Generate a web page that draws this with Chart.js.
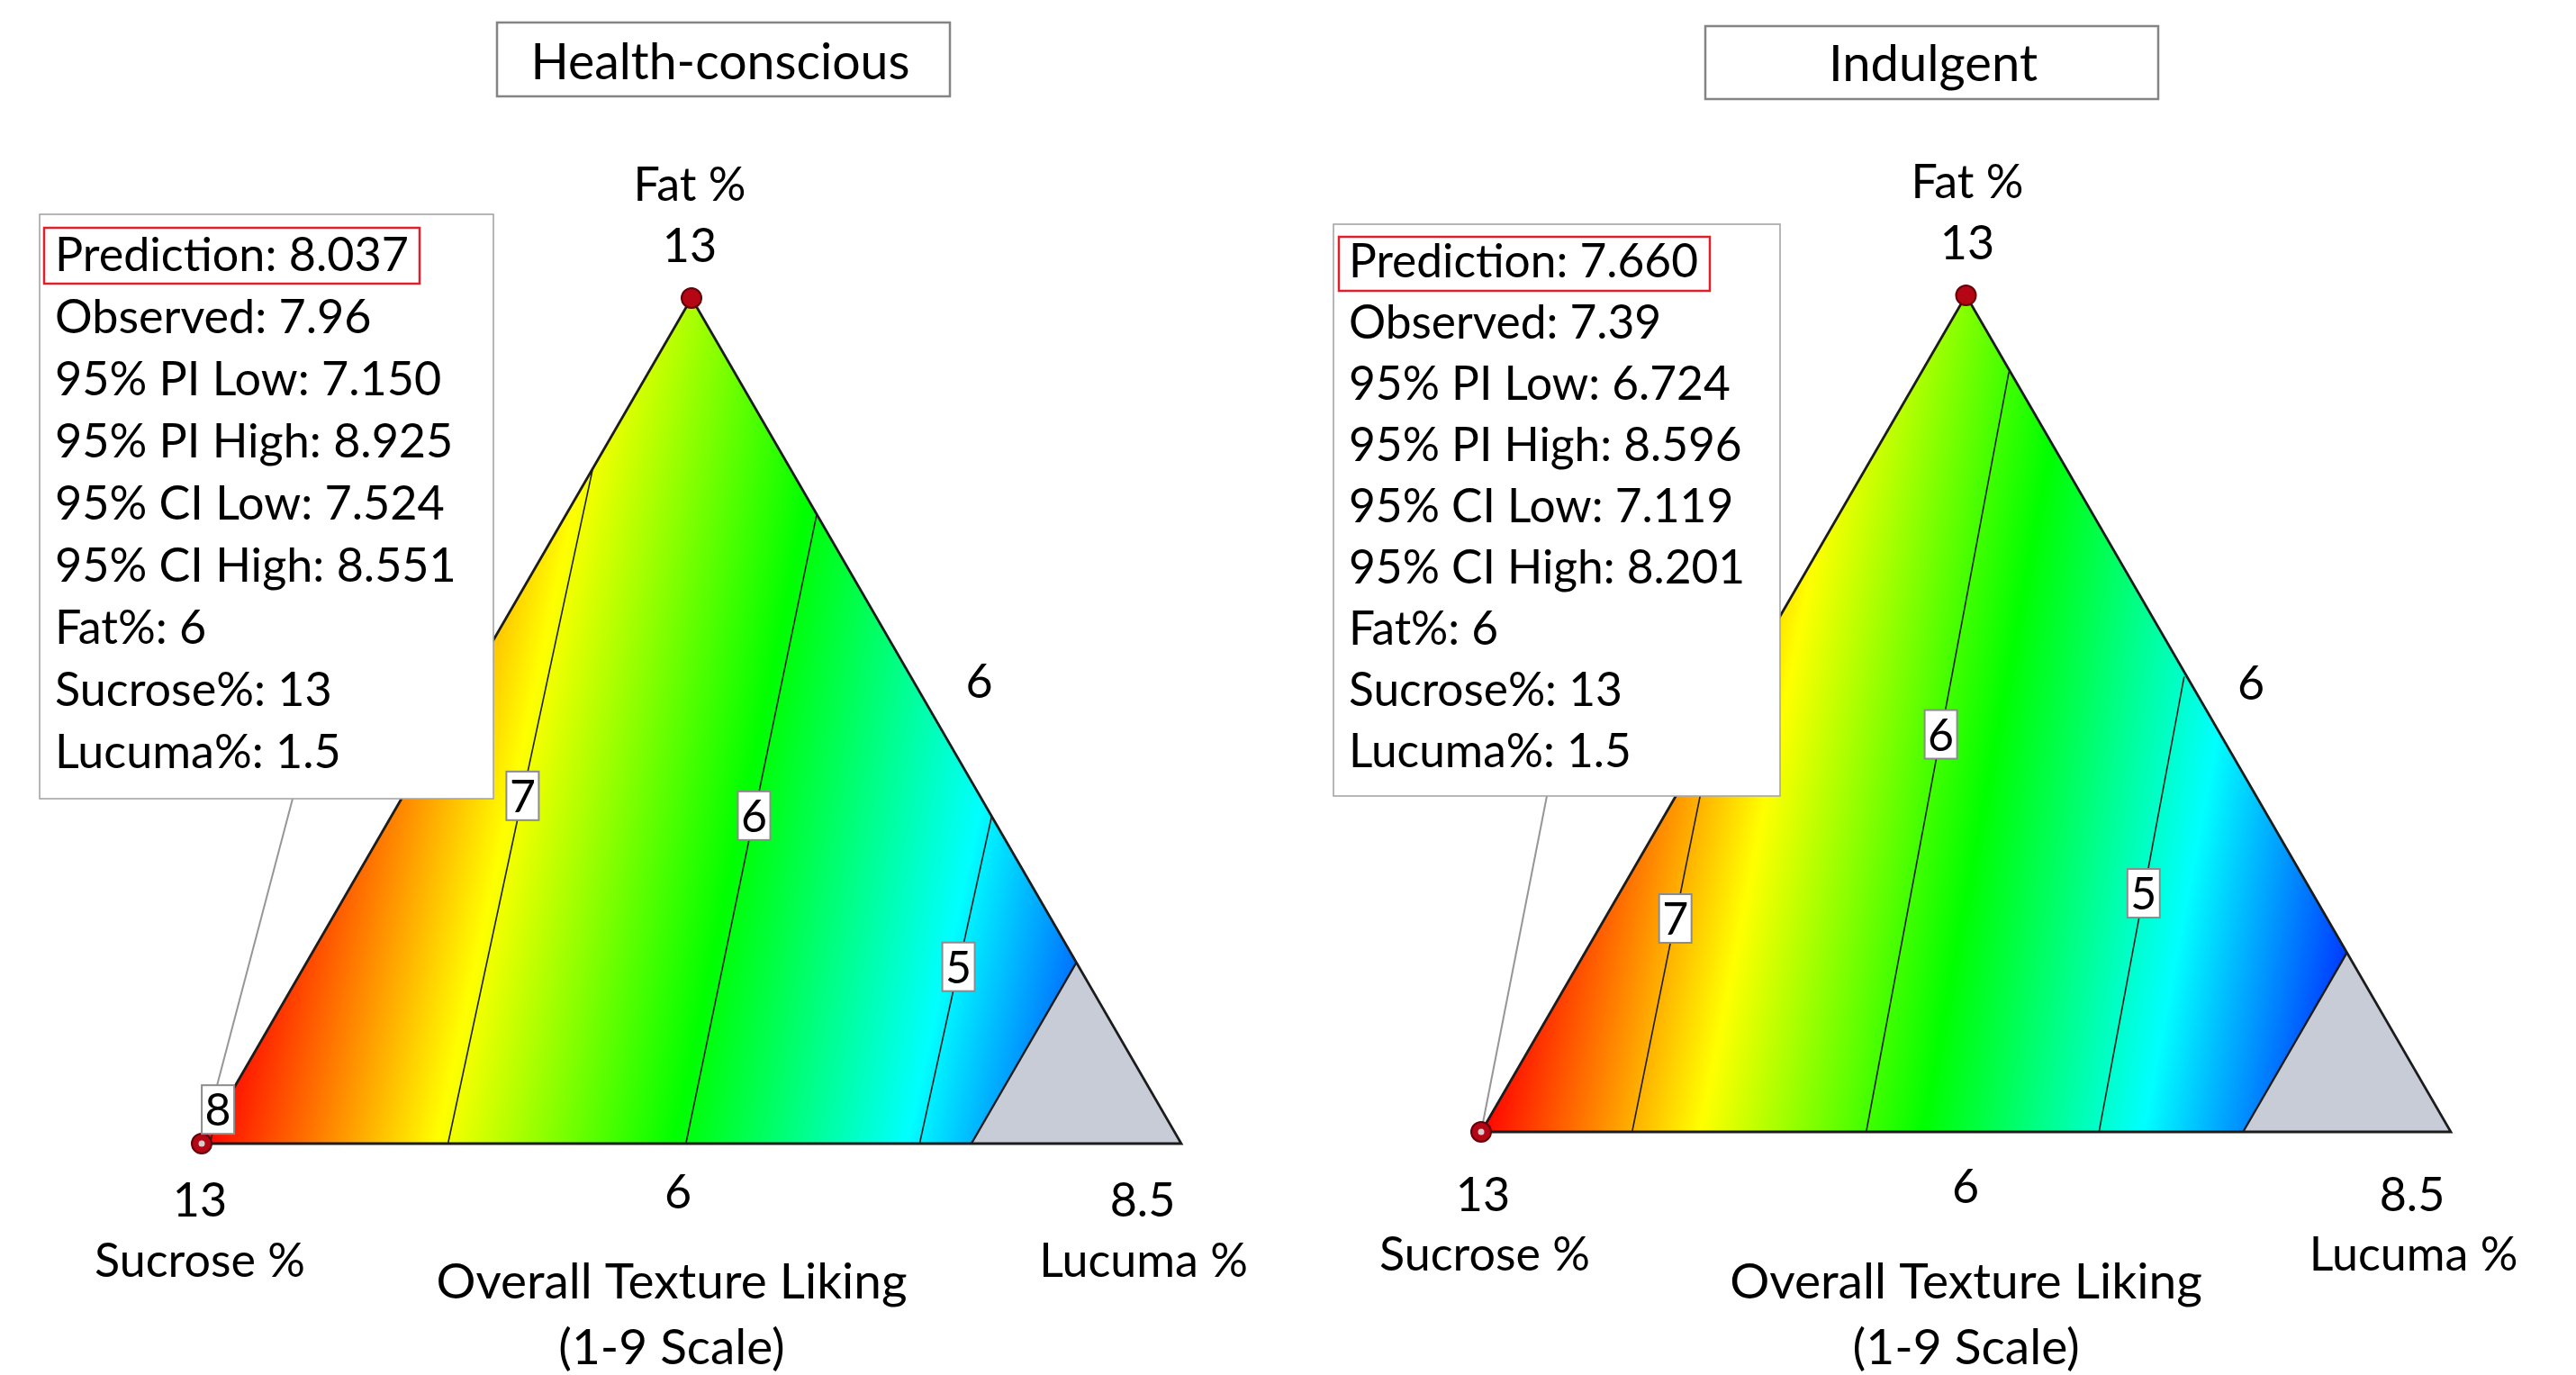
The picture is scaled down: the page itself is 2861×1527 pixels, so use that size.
<!DOCTYPE html>
<html>
<head>
<meta charset="utf-8">
<script src="https://cdn.jsdelivr.net/npm/chart.js@4.4.1/dist/chart.umd.min.js"></script>
<style>
  html, body { margin: 0; padding: 0; background: #ffffff; }
  #wrap { position: relative; width: 2861px; height: 1527px; overflow: hidden; background: #ffffff; }
  canvas { position: absolute; top: 0; }
</style>
</head>
<body>
<div id="wrap">
  <canvas id="hc" width="1430" height="1527" style="left:0px"></canvas>
  <canvas id="ind" width="1431" height="1527" style="left:1430px"></canvas>
</div>
<script>
// ---- Mixture design: Fat %, Sucrose % and Lucuma % always add up to 20.5 ----
const componentNames = ['Fat %', 'Sucrose %', 'Lucuma %'];
const fatLimits = [6, 13];
const sucroseLimits = [6, 13];
const lucumaLimits = [1.5, 8.5];
const lucumaCeiling = 7.0;            // blends richer in lucuma lie outside the modelled region
const designPoints = [[6, 13, 1.5], [13, 6, 1.5]];   // [fat, sucrose, lucuma]
const predictionPoint = [6, 13, 1.5];
const statNames = ['Prediction', 'Observed', '95% PI Low', '95% PI High', '95% CI Low', '95% CI High'];
const axisTitle = ['Overall Texture Liking', '(1-9 Scale)'];

// ---- Health-conscious: contour levels and where each contour meets the triangle ----
const hcLevels = [8, 7, 6, 5];
const hcFrom = [[6, 12.94, 1.56], [6, 11.24, 3.26], [6, 9.54, 4.96], [6, 7.87, 6.63]];
const hcTo   = [[6.20, 12.80, 1.50], [11.59, 7.41, 1.50], [11.21, 6.00, 3.29], [8.71, 6.00, 5.79]];
const hcColorRange = [4.06, 8.04];
const hcStatValues = ['8.037', '7.96', '7.150', '8.925', '7.524', '8.551'];

// ---- Indulgent ----
const indLevels = [7, 6, 5];
const indFrom = [[6, 11.91, 2.59], [6, 10.22, 4.28], [6, 8.54, 5.96]];
const indTo   = [[9.35, 9.65, 1.50], [12.36, 6.01, 2.13], [9.81, 6.02, 4.67]];
const indColorRange = [3.86, 7.66];
const indStatValues = ['7.660', '7.39', '6.724', '8.596', '7.119', '8.201'];

// ---------------------------------------------------------------------------
const H3 = Math.sqrt(3) / 2;
const span = fatLimits[1] - fatLimits[0];
const FONT = 'Lato, "Open Sans", "DejaVu Sans", sans-serif';
const LABEL_SIZE = 52;

// barycentric (fat, sucrose, lucuma) -> cartesian point of the equilateral simplex
function toXY(m) {
  const f = (m[0] - fatLimits[0]) / span;
  const l = (m[2] - lucumaLimits[0]) / span;
  return { x: l + f / 2, y: f * H3 };
}
function lerpMix(a, b, t) { return a.map((v, i) => v + (b[i] - v) * t); }

const sucroseCorner = [fatLimits[0], sucroseLimits[1], lucumaLimits[0]];
const lucumaCorner = [fatLimits[0], sucroseLimits[0], lucumaLimits[1]];
const fatCorner = [fatLimits[1], sucroseLimits[0], lucumaLimits[0]];
const total = fatLimits[0] + sucroseLimits[0] + lucumaLimits[1];
const greyBottom = [fatLimits[0], total - fatLimits[0] - lucumaCeiling, lucumaCeiling];
const greyRight = [total - sucroseLimits[0] - lucumaCeiling, sucroseLimits[0], lucumaCeiling];

// blue -> cyan -> green -> yellow -> red colour ramp
const rampColors = [[0, 0, 255], [0, 255, 255], [0, 255, 0], [255, 255, 0], [255, 0, 0]];

const panels = [
  {
    canvas: 'hc', offsetX: 0, title: 'Health-conscious',
    levels: hcLevels, from: hcFrom, to: hcTo, labelAt: [1.41, 0.515, 0.521, 0.54],
    colorRange: hcColorRange, statValues: hcStatValues,
    pad: { left: 224, right: 118, top: 331, bottom: 257 },
    titleBox: [552, 25, 1055, 107], titleCx: 800, titleBase: 88, titleW: 421,
    infoBox: [44, 238, 548, 887], infoX: 61, infoBase: 300.5, infoStep: 69.1, infoW: 393,
    predBox: [49, 253, 466, 315], connectorFrom: [325, 887],
    txt: {
      fatName: [766, 222.7], fatMax: [766, 290.7], sucMax: [222, 1351], sucName: [222, 1418],
      fatMin: [753, 1342], lucMax: [1269, 1351], lucName: [1270, 1418], sucMin: [1087.5, 775],
      axis1: [746, 1441.7], axis2: [746, 1515], axisW: 523
    }
  },
  {
    canvas: 'ind', offsetX: 1430, title: 'Indulgent',
    levels: indLevels, from: indFrom, to: indTo, labelAt: [0.533, 0.523, 0.524],
    colorRange: indColorRange, statValues: indStatValues,
    pad: { left: 215, right: 139, top: 328, bottom: 270 },
    titleBox: [1894, 29, 2397, 110], titleCx: 2147, titleBase: 90.3, titleW: 232,
    infoBox: [1481, 249, 1977, 884], infoX: 1498, infoBase: 308, infoStep: 68.0, infoW: 388,
    predBox: [1487, 263, 1899, 323], connectorFrom: [1718, 884],
    txt: {
      fatName: [2185, 220], fatMax: [2185, 288.3], sucMax: [1647, 1345], sucName: [1649, 1411],
      fatMin: [2183, 1336], lucMax: [2679, 1345], lucName: [2680.5, 1411], sucMin: [2500, 777],
      axis1: [2183.6, 1441.7], axis2: [2183.6, 1515], axisW: 525
    }
  }
];

function pix(chart, m) {
  const p = toXY(m);
  return { x: chart.scales.x.getPixelForValue(p.x), y: chart.scales.y.getPixelForValue(p.y) };
}

function fitSize(ctx, s, targetW) {
  ctx.font = '100px ' + FONT;
  return 100 * targetW / ctx.measureText(s).width;
}

function text(ctx, s, x, y, size, align) {
  ctx.font = size.toFixed(2) + 'px ' + FONT;
  ctx.fillStyle = '#000000';
  ctx.textAlign = align || 'center';
  ctx.textBaseline = 'alphabetic';
  ctx.fillText(s, x, y);
}

// continuous response surface, interpolated between the contour lines
function buildField(chart, P) {
  const a = chart.chartArea, xs = chart.scales.x, ys = chart.scales.y;
  const x0 = Math.floor(a.left) - 2, y0 = Math.floor(a.top) - 2;
  const w = Math.ceil(a.right) - x0 + 3, h = Math.ceil(a.bottom) - y0 + 3;
  const off = document.createElement('canvas');
  off.width = w; off.height = h;
  const octx = off.getContext('2d');
  const img = octx.createImageData(w, h);
  const d = img.data;
  const lines = P.levels.map((v, i) => ({ v, p: toXY(P.from[i]), q: toXY(P.to[i]) }));
  const n = lines.length;
  const cols = new Float64Array(w);
  for (let c = 0; c < w; c++) cols[c] = xs.getValueForPixel(x0 + c + 0.5);
  const cross = new Float64Array(n);
  const lo = P.colorRange[0], hi = P.colorRange[1];
  for (let r = 0; r < h; r++) {
    const Y = ys.getValueForPixel(y0 + r + 0.5);
    for (let k = 0; k < n; k++) {
      const L = lines[k];
      cross[k] = L.p.x + (Y - L.p.y) * (L.q.x - L.p.x) / (L.q.y - L.p.y);
    }
    for (let c = 0; c < w; c++) {
      const X = cols[c];
      let i = 0;
      while (i < n - 2 && X > cross[i + 1]) i++;
      const v = lines[i].v + (X - cross[i]) / (cross[i + 1] - cross[i]) * (lines[i + 1].v - lines[i].v);
      let t = (v - lo) / (hi - lo);
      t = Math.max(0, Math.min(1, t)) * 4;
      const j = Math.min(3, Math.floor(t)), u = t - j;
      const A = rampColors[j], B = rampColors[j + 1];
      const o = (r * w + c) * 4;
      d[o] = A[0] + (B[0] - A[0]) * u;
      d[o + 1] = A[1] + (B[1] - A[1]) * u;
      d[o + 2] = A[2] + (B[2] - A[2]) * u;
      d[o + 3] = 255;
    }
  }
  octx.putImageData(img, 0, 0);
  return { canvas: off, x0, y0 };
}

function makePlugin(P) {
  return {
    id: 'ternaryPanel',
    beforeDatasetsDraw(chart) {
      const ctx = chart.ctx;
      if (!P.field) P.field = buildField(chart, P);
      const A = pix(chart, sucroseCorner), B = pix(chart, lucumaCorner), C = pix(chart, fatCorner);
      ctx.save();
      ctx.beginPath();
      ctx.moveTo(A.x, A.y); ctx.lineTo(B.x, B.y); ctx.lineTo(C.x, C.y); ctx.closePath();
      ctx.clip();
      ctx.drawImage(P.field.canvas, P.field.x0, P.field.y0);
      ctx.restore();
      // leader from the read-out box to the selected blend
      const S = pix(chart, predictionPoint);
      ctx.save();
      ctx.strokeStyle = 'rgb(150,150,150)';
      ctx.lineWidth = 2;
      ctx.beginPath();
      ctx.moveTo(P.connectorFrom[0] - P.offsetX, P.connectorFrom[1]);
      ctx.lineTo(S.x, S.y);
      ctx.stroke();
      ctx.restore();
    },
    afterDatasetsDraw(chart) {
      const ctx = chart.ctx, ox = P.offsetX;
      ctx.save();
      // highlight centre on the selected blend
      const S = pix(chart, predictionPoint);
      ctx.fillStyle = 'rgb(215,205,205)';
      ctx.beginPath(); ctx.arc(S.x, S.y, 3.5, 0, Math.PI * 2); ctx.fill();

      // contour value tags
      P.levels.forEach((v, i) => {
        const c = pix(chart, lerpMix(P.from[i], P.to[i], P.labelAt[i]));
        const bw = 36, bh = 54;
        ctx.fillStyle = '#ffffff';
        ctx.fillRect(c.x - bw / 2, c.y - bh / 2, bw, bh);
        ctx.strokeStyle = 'rgb(140,140,140)';
        ctx.lineWidth = 2;
        ctx.strokeRect(c.x - bw / 2, c.y - bh / 2, bw, bh);
        text(ctx, String(v), c.x, c.y + 18, 50);
      });

      // read-out box
      const ib = P.infoBox;
      ctx.fillStyle = '#ffffff';
      ctx.fillRect(ib[0] - ox, ib[1], ib[2] - ib[0], ib[3] - ib[1]);
      ctx.strokeStyle = 'rgb(165,165,165)';
      ctx.lineWidth = 1.6;
      ctx.strokeRect(ib[0] - ox, ib[1], ib[2] - ib[0], ib[3] - ib[1]);
      const lines = statNames.map((nm, i) => nm + ': ' + P.statValues[i]).concat([
        'Fat%: ' + predictionPoint[0],
        'Sucrose%: ' + predictionPoint[1],
        'Lucuma%: ' + predictionPoint[2]
      ]);
      const fs = fitSize(ctx, lines[0], P.infoW);
      lines.forEach((s, k) => text(ctx, s, P.infoX - ox, P.infoBase + k * P.infoStep, fs, 'left'));
      const pb = P.predBox;
      ctx.strokeStyle = 'rgb(222,32,44)';
      ctx.lineWidth = 2.5;
      ctx.strokeRect(pb[0] - ox, pb[1], pb[2] - pb[0], pb[3] - pb[1]);

      // panel title
      const tb = P.titleBox;
      ctx.strokeStyle = 'rgb(132,132,132)';
      ctx.lineWidth = 2.5;
      ctx.strokeRect(tb[0] - ox, tb[1], tb[2] - tb[0], tb[3] - tb[1]);
      text(ctx, P.title, P.titleCx - ox, P.titleBase, fitSize(ctx, P.title, P.titleW));

      // vertex and edge labels
      const T = P.txt;
      text(ctx, componentNames[0], T.fatName[0] - ox, T.fatName[1], LABEL_SIZE);
      text(ctx, String(fatLimits[1]), T.fatMax[0] - ox, T.fatMax[1], LABEL_SIZE);
      text(ctx, String(sucroseLimits[1]), T.sucMax[0] - ox, T.sucMax[1], LABEL_SIZE);
      text(ctx, componentNames[1], T.sucName[0] - ox, T.sucName[1], LABEL_SIZE);
      text(ctx, String(fatLimits[0]), T.fatMin[0] - ox, T.fatMin[1], LABEL_SIZE);
      text(ctx, String(lucumaLimits[1]), T.lucMax[0] - ox, T.lucMax[1], LABEL_SIZE);
      text(ctx, componentNames[2], T.lucName[0] - ox, T.lucName[1], LABEL_SIZE);
      text(ctx, String(sucroseLimits[0]), T.sucMin[0] - ox, T.sucMin[1], LABEL_SIZE);
      const as = fitSize(ctx, axisTitle[0], T.axisW);
      text(ctx, axisTitle[0], T.axis1[0] - ox, T.axis1[1], as);
      text(ctx, axisTitle[1], T.axis2[0] - ox, T.axis2[1], as);
      ctx.restore();
    }
  };
}

function buildChart(P) {
  const edge = 'rgb(28,28,28)';
  const datasets = [];
  datasets.push({
    type: 'scatter',
    data: designPoints.map(toXY),
    pointRadius: 11,
    backgroundColor: 'rgb(180,6,20)',
    borderColor: 'rgb(100,0,10)',
    borderWidth: 2,
    clip: false,
    order: 0
  });
  P.levels.forEach((v, i) => {
    datasets.push({
      type: 'line',
      label: String(v),
      data: [toXY(P.from[i]), toXY(P.to[i])],
      borderColor: 'rgb(30,30,30)',
      borderWidth: 1.6,
      pointRadius: 0,
      fill: false,
      clip: false,
      order: 1
    });
  });
  datasets.push({
    type: 'line',
    data: [toXY(sucroseCorner), toXY(lucumaCorner), toXY(fatCorner), toXY(sucroseCorner)],
    borderColor: edge,
    borderWidth: 2.8,
    borderJoinStyle: 'miter',
    pointRadius: 0,
    fill: false,
    clip: false,
    order: 2
  });
  datasets.push({
    type: 'line',
    data: [toXY(greyBottom), toXY(greyRight)],
    borderColor: edge,
    borderWidth: 2.4,
    pointRadius: 0,
    fill: false,
    clip: false,
    order: 2
  });
  datasets.push({
    type: 'line',
    data: [toXY(greyBottom), toXY(greyRight), toXY(lucumaCorner)],
    borderWidth: 0,
    borderColor: 'rgba(0,0,0,0)',
    backgroundColor: 'rgb(200,204,215)',
    pointRadius: 0,
    fill: 'origin',
    clip: false,
    order: 3
  });

  return new Chart(document.getElementById(P.canvas), {
    type: 'scatter',
    data: { datasets },
    options: {
      responsive: false,
      animation: false,
      devicePixelRatio: 1,
      events: [],
      layout: { padding: P.pad },
      scales: {
        x: { type: 'linear', min: 0, max: 1, display: false },
        y: { type: 'linear', min: 0, max: H3, display: false }
      },
      elements: { line: { tension: 0 } },
      plugins: { legend: { display: false }, tooltip: { enabled: false }, title: { display: false } }
    },
    plugins: [makePlugin(P)]
  });
}

panels.forEach(buildChart);
</script>
</body>
</html>
